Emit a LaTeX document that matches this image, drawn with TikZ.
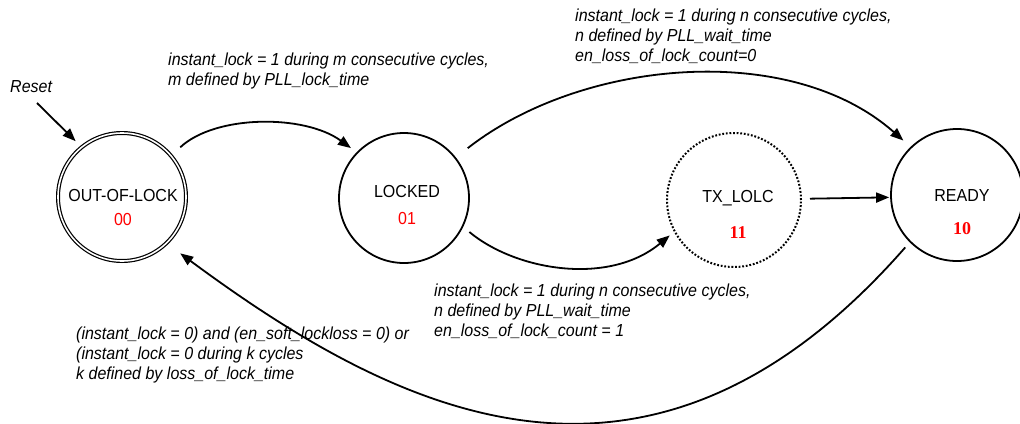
\documentclass[tikz,border=0pt]{standalone}
\usepackage{fontspec}
\usetikzlibrary{arrows.meta}
\newfontfamily\labfont[FakeStretch=0.92]{Liberation Sans}
\newfontfamily\numserif{Liberation Serif}
\begin{document}
\begin{tikzpicture}[x=1pt,y=-1pt,
  statecirc/.style={circle, draw, line width=1.8pt, inner sep=0pt},
  conn/.style={line width=1.8pt, -{Triangle[length=13pt,width=10pt]}},
  lbl/.style={inner sep=0pt, align=left, font=\labfont\itshape\fontsize{17.4}{20}\selectfont},
  sname/.style={inner sep=0pt, anchor=base, font=\labfont\fontsize{17.4}{20}\selectfont},
  snum/.style={inner sep=0pt, anchor=base, text=red, font=\labfont\fontsize{17.4}{20}\selectfont},
  snumserif/.style={inner sep=0pt, anchor=base, text=red, font=\numserif\bfseries\fontsize{18}{20}\selectfont}]
\useasboundingbox (0,0) rectangle (1020,423);

% states
\node[statecirc, double, line width=1.2pt, double distance=1.6pt, minimum size=128pt] (ool) at (122,197) {};
\node[statecirc, minimum size=130pt] (lock) at (404,198) {};
\node[statecirc, dash pattern=on 1.8pt off 1.8pt, line width=2pt, minimum size=134pt] (tx) at (734,200) {};
\node[statecirc, minimum size=132pt] (ready) at (957,195) {};

\node[sname] (oolname) at (123,201) {OUT-OF-LOCK};
\node[snum] (oolnum) at (123,225) {00};
\node[sname] (lockname) at (407,197) {LOCKED};
\node[snum] (locknum) at (407,224) {01};
\node[sname] (txname) at (738,202) {TX\_LOLC};
\node[snumserif] (txnum) at (738,238) {11};
\node[sname] (readyname) at (962,201) {READY};
\node[snumserif] (readynum) at (962,234) {10};

% reset
\node[lbl, anchor=base west] (reset) at (10,92) {Reset};
\coordinate (rs) at (37,103);
\draw[conn, shorten >=8pt] (rs) -- (ool.129);

% transitions
\draw[conn, shorten <=12pt, shorten >=7pt] (ool.40) .. controls +(44,-41) and +(-52,-38) .. (lock.136);
\draw[conn, shorten <=15pt, shorten >=9.6pt] (lock.38) .. controls +(125,-98) and +(-121,-107) .. (ready.134);
\draw[conn, shorten <=8pt, shorten >=5.5pt] (lock.-26) .. controls +(53,44) and +(-65,54) .. (tx.208);
\draw[conn, shorten <=8pt, shorten >=1pt] (tx.1.7) -- (ready.182.6);
\draw[conn, shorten <=6.8pt, shorten >=16.6pt] (ready.225.6) .. controls +(-261,298) and +(230,170) .. (ool.-46);

% labels
\node[lbl, anchor=north west] (l1) at (168,52.3) {instant\_lock = 1 during m consecutive cycles,\\m defined by PLL\_lock\_time};
\node[lbl, anchor=north west] (l3) at (575,8.3) {instant\_lock = 1 during n consecutive cycles,\\n defined by PLL\_wait\_time\\en\_loss\_of\_lock\_count=0};
\node[lbl, anchor=north west] (l2) at (434,283.3) {instant\_lock = 1 during n consecutive cycles,\\n defined by PLL\_wait\_time\\en\_loss\_of\_lock\_count = 1};
\node[lbl, anchor=north west] (l4) at (76,326.3) {(instant\_lock = 0) and (en\_soft\_lockloss = 0) or\\(instant\_lock = 0 during k cycles\\k defined by loss\_of\_lock\_time};
\end{tikzpicture}
\end{document}
